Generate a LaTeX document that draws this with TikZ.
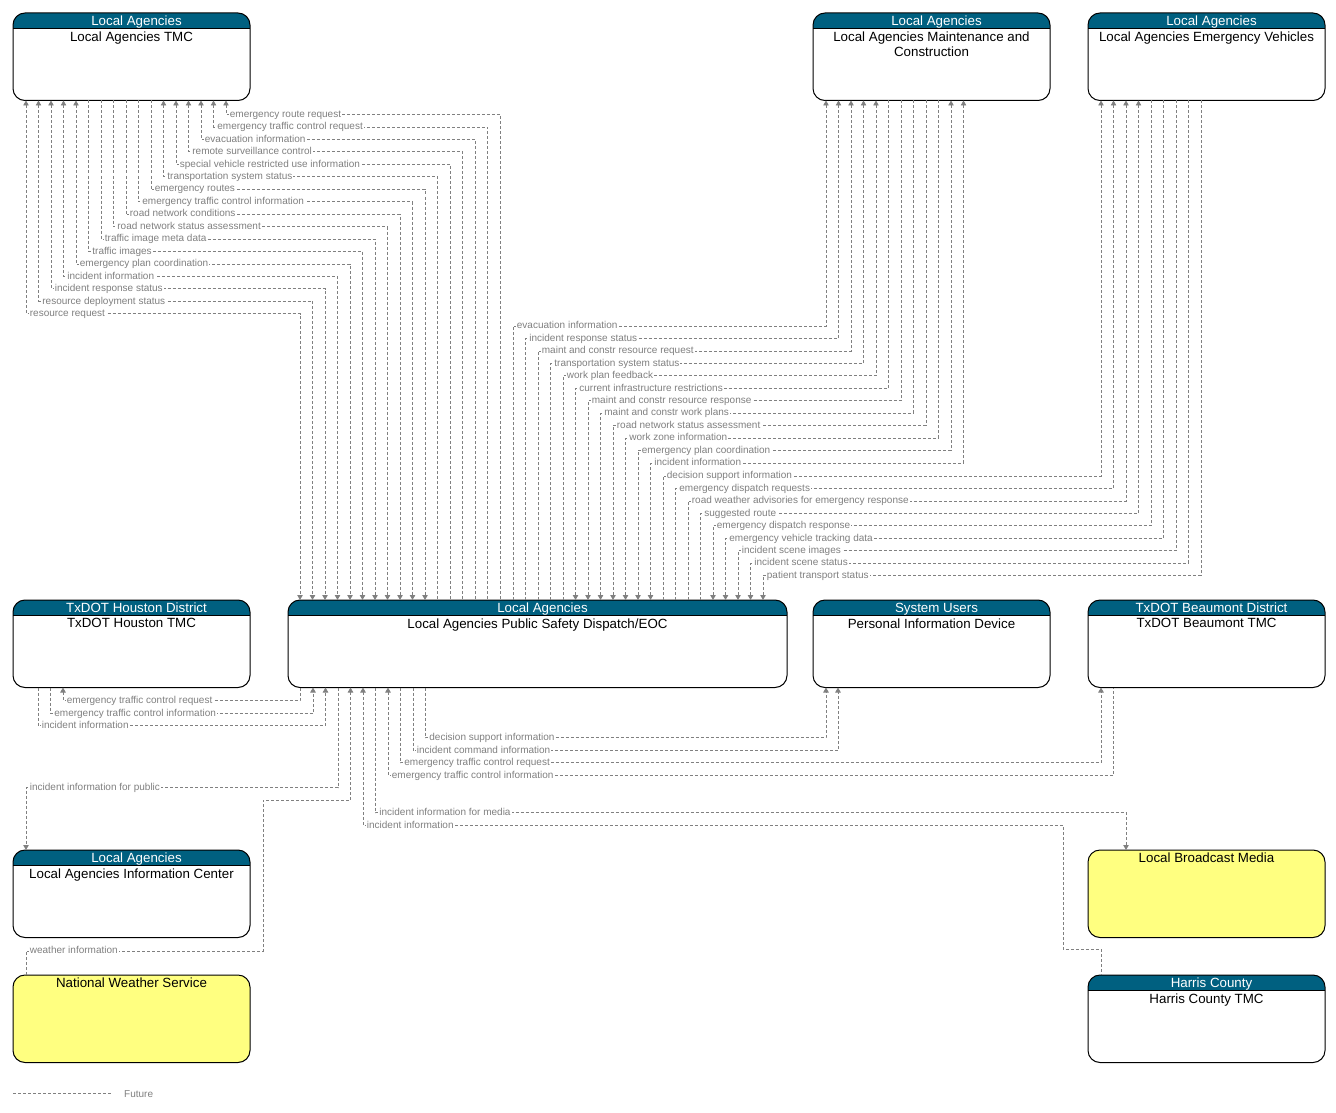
\documentclass[tikz,border=0pt]{standalone}
\usepackage{fontspec}
\setmainfont{Liberation Sans}
\usetikzlibrary{arrows.meta}
\definecolor{hdrc}{RGB}{0,96,128}
\definecolor{yelc}{RGB}{255,255,128}
\definecolor{flowc}{RGB}{128,128,128}
\newcommand\ttlfont{\fontsize{13.33}{15}\selectfont}
\newcommand\lblfont{\fontsize{10}{11}\selectfont}
\tikzset{
  boxbase/.style={anchor=north west, inner sep=0pt, outer sep=0pt, minimum height=87.5pt, rounded corners=12pt},
  boxline/.style={draw=black, line width=1pt, rounded corners=12pt},
  hdrtxt/.style={anchor=base, text=white, font=\ttlfont, inner sep=0pt},
  ttltxt/.style={anchor=north, text=black, font=\ttlfont, inner sep=0pt, align=center},
  flow/.style={draw=flowc, line width=0.8pt, dash pattern=on 3pt off 2pt},
  ae/.style={-{Triangle[width=5.5pt,length=5pt]}},
  ab/.style={{Triangle[width=5.5pt,length=5pt]}-},
  abe/.style={{Triangle[width=5.5pt,length=5pt]}-{Triangle[width=5.5pt,length=5pt]}},
  lbl/.style={anchor=west, fill=white, inner xsep=1pt, inner ysep=0.5pt, text=flowc, font=\lblfont, xshift=2.5pt, text height=7.5pt, text depth=2pt},
}
\newcommand{\sysbox}[6]{%
  \node[boxbase, minimum width=#4pt, fill=white] (#1) at (#2,-#3) {};
  \begin{scope}
    \clip[rounded corners=12pt] (#1.north west) rectangle (#1.south east);
    \fill[hdrc] (#1.north west) rectangle ([yshift=-15pt]#1.north east);
  \end{scope}
  \draw[boxline] (#1.north west) rectangle (#1.south east);
  \draw[line width=0.8pt] ([yshift=-15pt]#1.north west) -- ([yshift=-15pt]#1.north east);
  \node[hdrtxt] (#1-h) at ([xshift=5pt,yshift=-12.3pt]#1.north) {#5};
  \node[ttltxt] (#1-t) at ([yshift=-18.3pt]#1.north) {#6};
}
\newcommand{\extbox}[5]{%
  \node[boxbase, minimum width=#4pt, fill=yelc] (#1) at (#2,-#3) {};
  \draw[boxline] (#1.north west) rectangle (#1.south east);
  \node[hdrtxt, text=black] (#1-t) at ([yshift=-12.3pt]#1.north) {#5};
}
\begin{document}
\begin{tikzpicture}[x=1pt,y=1pt]
\useasboundingbox (0,0) rectangle (1336,-1113);

% boxes
\sysbox{tmc}{13}{13}{237}{Local Agencies}{Local Agencies TMC}
\sysbox{maint}{813}{13}{237}{Local Agencies}{Local Agencies Maintenance and\\Construction}
\sysbox{ev}{1088}{13}{237}{Local Agencies}{Local Agencies Emergency Vehicles}
\sysbox{txh}{13}{600}{237}{TxDOT Houston District}{TxDOT Houston TMC}
\sysbox{disp}{288}{600}{499}{Local Agencies}{Local Agencies Public Safety Dispatch/EOC}
\sysbox{pid}{813}{600}{237}{System Users}{Personal Information Device}
\sysbox{txb}{1088}{600}{237}{TxDOT Beaumont District}{TxDOT Beaumont TMC}
\sysbox{info}{13}{850}{237}{Local Agencies}{Local Agencies Information Center}
\extbox{bcm}{1088}{850}{237}{Local Broadcast Media}
\extbox{nws}{13}{975}{237}{National Weather Service}
\sysbox{hc}{1088}{975}{237}{Harris County}{Harris County TMC}

% TMC <-> Dispatch
\draw[flow,ab] ([xshift=213pt]tmc.south west) -- ++(0,-14) node[lbl,pos=1]{emergency route request} -| ([xshift=212pt]disp.north west);
\draw[flow,ab] ([xshift=200.5pt]tmc.south west) -- ++(0,-26.45) node[lbl,pos=1]{emergency traffic control request} -| ([xshift=199.5pt]disp.north west);
\draw[flow,ab] ([xshift=188pt]tmc.south west) -- ++(0,-38.9) node[lbl,pos=1]{evacuation information} -| ([xshift=187pt]disp.north west);
\draw[flow,ab] ([xshift=175.5pt]tmc.south west) -- ++(0,-51.35) node[lbl,pos=1]{remote surveillance control} -| ([xshift=174.5pt]disp.north west);
\draw[flow,ab] ([xshift=163pt]tmc.south west) -- ++(0,-63.8) node[lbl,pos=1]{special vehicle restricted use information} -| ([xshift=162pt]disp.north west);
\draw[flow,ab] ([xshift=150.5pt]tmc.south west) -- ++(0,-76.25) node[lbl,pos=1]{transportation system status} -| ([xshift=149.5pt]disp.north west);
\draw[flow,ae] ([xshift=138pt]tmc.south west) -- ++(0,-88.7) node[lbl,pos=1]{emergency routes} -| ([xshift=137pt]disp.north west);
\draw[flow,ae] ([xshift=125.5pt]tmc.south west) -- ++(0,-101.15) node[lbl,pos=1]{emergency traffic control information} -| ([xshift=124.5pt]disp.north west);
\draw[flow,ae] ([xshift=113pt]tmc.south west) -- ++(0,-113.6) node[lbl,pos=1]{road network conditions} -| ([xshift=112pt]disp.north west);
\draw[flow,ae] ([xshift=100.5pt]tmc.south west) -- ++(0,-126.05) node[lbl,pos=1]{road network status assessment} -| ([xshift=99.5pt]disp.north west);
\draw[flow,ae] ([xshift=88pt]tmc.south west) -- ++(0,-138.5) node[lbl,pos=1]{traffic image meta data} -| ([xshift=87pt]disp.north west);
\draw[flow,ae] ([xshift=75.5pt]tmc.south west) -- ++(0,-150.95) node[lbl,pos=1]{traffic images} -| ([xshift=74.5pt]disp.north west);
\draw[flow,abe] ([xshift=63pt]tmc.south west) -- ++(0,-163.4) node[lbl,pos=1]{emergency plan coordination} -| ([xshift=62pt]disp.north west);
\draw[flow,abe] ([xshift=50.5pt]tmc.south west) -- ++(0,-175.85) node[lbl,pos=1]{incident information} -| ([xshift=49.5pt]disp.north west);
\draw[flow,abe] ([xshift=38pt]tmc.south west) -- ++(0,-188.3) node[lbl,pos=1]{incident response status} -| ([xshift=37pt]disp.north west);
\draw[flow,abe] ([xshift=25.5pt]tmc.south west) -- ++(0,-200.75) node[lbl,pos=1]{resource deployment status} -| ([xshift=24.5pt]disp.north west);
\draw[flow,abe] ([xshift=13pt]tmc.south west) -- ++(0,-213.2) node[lbl,pos=1]{resource request} -| ([xshift=12pt]disp.north west);

% Maintenance <-> Dispatch
\draw[flow,ae] ([xshift=225pt]disp.north west) -- ++(0,274) node[lbl,pos=1]{evacuation information} -| ([xshift=13pt]maint.south west);
\draw[flow,ae] ([xshift=237.5pt]disp.north west) -- ++(0,261.55) node[lbl,pos=1]{incident response status} -| ([xshift=25.5pt]maint.south west);
\draw[flow,ae] ([xshift=250pt]disp.north west) -- ++(0,249.1) node[lbl,pos=1]{maint and constr resource request} -| ([xshift=38pt]maint.south west);
\draw[flow,ae] ([xshift=262.5pt]disp.north west) -- ++(0,236.65) node[lbl,pos=1]{transportation system status} -| ([xshift=50.5pt]maint.south west);
\draw[flow,ae] ([xshift=275pt]disp.north west) -- ++(0,224.2) node[lbl,pos=1]{work plan feedback} -| ([xshift=63pt]maint.south west);
\draw[flow,ab] ([xshift=287.5pt]disp.north west) -- ++(0,211.75) node[lbl,pos=1]{current infrastructure restrictions} -| ([xshift=75.5pt]maint.south west);
\draw[flow,ab] ([xshift=300pt]disp.north west) -- ++(0,199.3) node[lbl,pos=1]{maint and constr resource response} -| ([xshift=88pt]maint.south west);
\draw[flow,ab] ([xshift=312.5pt]disp.north west) -- ++(0,186.85) node[lbl,pos=1]{maint and constr work plans} -| ([xshift=100.5pt]maint.south west);
\draw[flow,ab] ([xshift=325pt]disp.north west) -- ++(0,174.4) node[lbl,pos=1]{road network status assessment} -| ([xshift=113pt]maint.south west);
\draw[flow,ab] ([xshift=337.5pt]disp.north west) -- ++(0,161.95) node[lbl,pos=1]{work zone information} -| ([xshift=125.5pt]maint.south west);
\draw[flow,abe] ([xshift=350pt]disp.north west) -- ++(0,149.5) node[lbl,pos=1]{emergency plan coordination} -| ([xshift=138pt]maint.south west);
\draw[flow,abe] ([xshift=362.5pt]disp.north west) -- ++(0,137.05) node[lbl,pos=1]{incident information} -| ([xshift=150.5pt]maint.south west);

% Emergency Vehicles <-> Dispatch
\draw[flow,ae] ([xshift=375pt]disp.north west) -- ++(0,124) node[lbl,pos=1]{decision support information} -| ([xshift=13pt]ev.south west);
\draw[flow,ae] ([xshift=387.5pt]disp.north west) -- ++(0,111.55) node[lbl,pos=1]{emergency dispatch requests} -| ([xshift=25.5pt]ev.south west);
\draw[flow,ae] ([xshift=400pt]disp.north west) -- ++(0,99.1) node[lbl,pos=1]{road weather advisories for emergency response} -| ([xshift=38pt]ev.south west);
\draw[flow,ae] ([xshift=412.5pt]disp.north west) -- ++(0,86.65) node[lbl,pos=1]{suggested route} -| ([xshift=50.5pt]ev.south west);
\draw[flow,ab] ([xshift=425pt]disp.north west) -- ++(0,74.2) node[lbl,pos=1]{emergency dispatch response} -| ([xshift=63pt]ev.south west);
\draw[flow,ab] ([xshift=437.5pt]disp.north west) -- ++(0,61.75) node[lbl,pos=1]{emergency vehicle tracking data} -| ([xshift=75.5pt]ev.south west);
\draw[flow,ab] ([xshift=450pt]disp.north west) -- ++(0,49.3) node[lbl,pos=1]{incident scene images} -| ([xshift=88pt]ev.south west);
\draw[flow,ab] ([xshift=462.5pt]disp.north west) -- ++(0,36.85) node[lbl,pos=1]{incident scene status} -| ([xshift=100.5pt]ev.south west);
\draw[flow,ab] ([xshift=475pt]disp.north west) -- ++(0,24.4) node[lbl,pos=1]{patient transport status} -| ([xshift=113pt]ev.south west);

% TxDOT Houston <-> Dispatch
\draw[flow,ab] ([xshift=50pt]txh.south west) -- ++(0,-13) node[lbl,pos=1]{emergency traffic control request} -| ([xshift=12pt]disp.south west);
\draw[flow,ae] ([xshift=37.5pt]txh.south west) -- ++(0,-26) node[lbl,pos=1]{emergency traffic control information} -| ([xshift=25pt]disp.south west);
\draw[flow,ae] ([xshift=25pt]txh.south west) -- ++(0,-38) node[lbl,pos=1]{incident information} -| ([xshift=37.5pt]disp.south west);

% Dispatch bottom flows
\draw[flow,ae] ([xshift=50pt]disp.south west) -- ++(0,-100) -| node[lbl,pos=0.5]{incident information for public} ([xshift=13pt]info.north west);
\draw[flow,ae] ([xshift=13pt]nws.north west) -- ++(0,24) node[lbl,pos=1]{weather information} -- ++(237,0) -- ++(0,151) -| ([xshift=62.5pt]disp.south west);
\draw[flow,ae] ([xshift=87.5pt]disp.south west) -- ++(0,-125) node[lbl,pos=1]{incident information for media} -| ([xshift=38pt]bcm.north west);
\draw[flow,ab] ([xshift=75pt]disp.south west) -- ++(0,-138) node[lbl,pos=1]{incident information} -- ++(700,0) -- ++(0,-124) -| ([xshift=13pt]hc.north west);
\draw[flow,ab] ([xshift=100pt]disp.south west) -- ++(0,-88) node[lbl,pos=1]{emergency traffic control information} -| ([xshift=25pt]txb.south west);
\draw[flow,ae] ([xshift=112.5pt]disp.south west) -- ++(0,-75) node[lbl,pos=1]{emergency traffic control request} -| ([xshift=13pt]txb.south west);
\draw[flow,ae] ([xshift=125pt]disp.south west) -- ++(0,-63) node[lbl,pos=1]{incident command information} -| ([xshift=25pt]pid.south west);
\draw[flow,ae] ([xshift=137.5pt]disp.south west) -- ++(0,-50) node[lbl,pos=1]{decision support information} -| ([xshift=13pt]pid.south west);

% legend
\coordinate (lgA) at (13,-1093);
\coordinate (lgB) at (112,-1093);
\draw[flow] (lgA) -- (lgB);
\node[anchor=west, inner sep=0pt, text=flowc, font=\lblfont] (lgT) at (124,-1094) {Future};
\end{tikzpicture}
\end{document}
